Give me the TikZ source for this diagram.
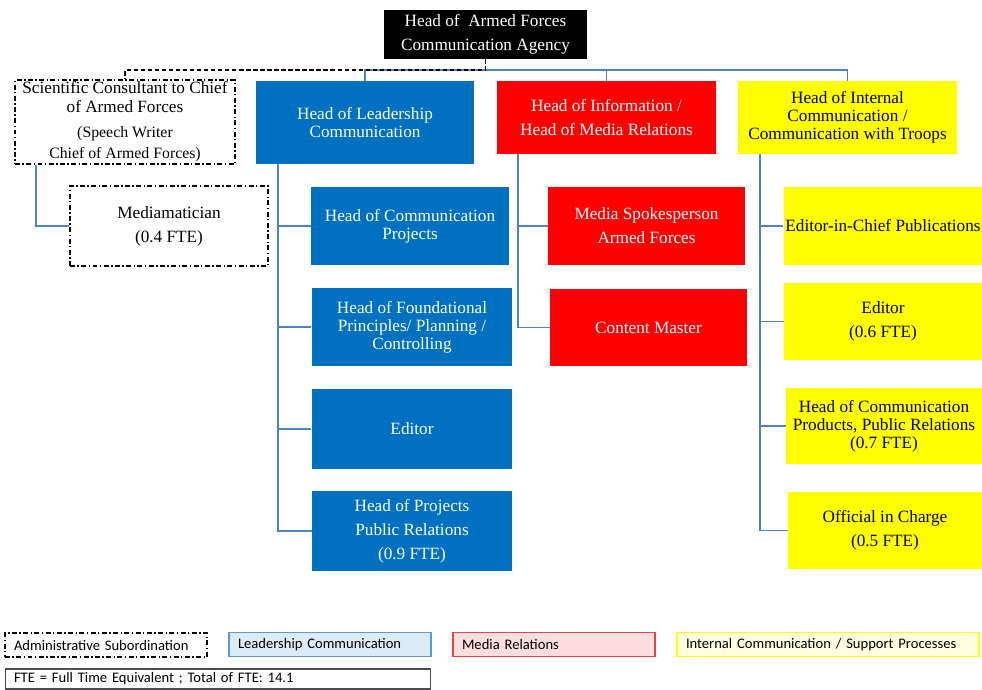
\documentclass[tikz,border=0pt]{standalone}
\usepackage{fontspec}
\setmainfont{Liberation Serif}
\newfontfamily\legendfont{Carlito}
\usepackage{xcolor}
\usetikzlibrary{positioning,calc}

\definecolor{leadblue}{RGB}{0,112,192}
\definecolor{mediared}{RGB}{255,0,0}
\definecolor{internyellow}{RGB}{255,255,0}
\definecolor{linkblue}{RGB}{79,129,199}
\definecolor{legblue}{RGB}{221,235,247}
\definecolor{legblueline}{RGB}{91,155,213}
\definecolor{legred}{RGB}{252,222,222}
\definecolor{legredline}{RGB}{232,66,66}
\definecolor{legyellow}{RGB}{255,255,224}

\begin{document}
\begin{tikzpicture}[x=0.02cm, y=-0.02cm,
    box/.style={minimum width=3.96cm, minimum height=1.56cm, inner sep=1pt,
        align=center, font=\fontsize{9.8}{10.3}\selectfont},
    leadbox/.style={box, fill=leadblue, text=white},
    mediabox/.style={box, fill=mediared, text=white},
    internbox/.style={box, fill=internyellow, text=black},
    adminbox/.style={box, draw=black, line width=1pt,
        dash pattern=on 2.8pt off 1.4pt on 0.8pt off 1.4pt},
    orgline/.style={draw=linkblue, line width=1pt},
    adminline/.style={draw=black, line width=1pt, dash pattern=on 2.5pt off 1.5pt},
    legbox/.style={text width=#1, inner xsep=0.18cm, inner ysep=0pt,
        minimum height=0.48cm, align=left, font=\legendfont\fontsize{8.3}{9}\selectfont}
]
    \useasboundingbox (0,0) rectangle (982,689);

    % Agency head
    \node[box, fill=black, text=white, minimum width=4.06cm, minimum height=0.98cm]
        (top) at (485.5,34.5) {Head of \ Armed Forces\\[3.4pt]Communication Agency};

    % Staff (administrative subordination)
    \node[adminbox, minimum width=4.4cm, minimum height=1.68cm] (sci) at (125,122)
        {Scientific Consultant to Chief\\of Armed Forces\\[4pt]
        \fontsize{9}{10}\selectfont (Speech Writer\\[2pt]
        \fontsize{9}{10}\selectfont Chief of Armed Forces)};
    \node[adminbox, minimum height=1.6cm] (med) at (169,226)
        {Mediamatician\\[3.4pt](0.4 FTE)};

    % Leadership communication
    \node[leadbox, minimum width=4.36cm, minimum height=1.66cm] (lead) at (365,122.5)
        {Head of Leadership\\Communication};
    \node[leadbox] (lead1) at (410,226) {Head of Communication\\Projects};
    \node[leadbox, minimum width=4.02cm] (lead2) at (412,327)
        {Head of Foundational\\Principles/ Planning /\\Controlling};
    \node[leadbox, minimum width=4.02cm, minimum height=1.6cm] (lead3) at (412,429) {Editor};
    \node[leadbox, minimum width=4cm, minimum height=1.6cm] (lead4) at (412,531)
        {Head of Projects\\[3.4pt]Public Relations\\[3.4pt](0.9 FTE)};

    % Media relations
    \node[mediabox, minimum width=4.38cm, minimum height=1.46cm] (info) at (606.5,117.5)
        {Head of Information /\\[3.4pt]Head of Media Relations};
    \node[mediabox, minimum width=3.94cm] (media1) at (646.5,226)
        {Media Spokesperson\\[3.4pt]Armed Forces};
    \node[mediabox, minimum width=3.94cm, minimum height=1.54cm] (media2) at (648.5,327.5)
        {Content Master};

    % Internal communication
    \node[internbox, minimum width=4.38cm, minimum height=1.46cm] (intern) at (847.5,117.5)
        {Head of Internal\\Communication /\\Communication with Troops};
    \node[internbox] (intern1) at (883,226) {Editor-in-Chief Publications};
    \node[internbox, minimum height=1.54cm] (intern2) at (883,321.5)
        {Editor\\[3.4pt](0.6 FTE)};
    \node[internbox, minimum width=3.92cm, minimum height=1.52cm] (intern3) at (884,426)
        {Head of Communication\\Products, Public Relations\\(0.7 FTE)};
    \node[internbox, minimum width=3.88cm, minimum height=1.54cm] (intern4) at (885,530.5)
        {Official in Charge\\[3.4pt](0.5 FTE)};

    % Connectors from the head
    \coordinate (bus) at ($(top.south)+(0,11)$);
    \draw[orgline] (lead.north) |- (bus) -| (intern.north);
    \draw[orgline] (info.north) -- (info.north |- bus);
    \draw[adminline] (top.south) -- (bus) -| (sci.north);
    \draw[orgline] ([xshift=0.44cm]sci.south west) |- (med.west);

    % Spines of the three departments
    \coordinate (leadspine) at ([xshift=0.44cm]lead.south west);
    \draw[orgline] (leadspine) |- (lead4.west);
    \foreach \n in {lead1,lead2,lead3}
        \draw[orgline] (\n.west) -- (\n.west -| leadspine);

    \coordinate (infospine) at ([xshift=0.42cm]info.south west);
    \draw[orgline] (infospine) |- (media2.west);
    \draw[orgline] (media1.west) -- (media1.west -| infospine);

    \coordinate (internspine) at ([xshift=0.44cm]intern.south west);
    \draw[orgline] (internspine) |- (intern4.west);
    \foreach \n in {intern1,intern2,intern3}
        \draw[orgline] (\n.west) -- (\n.west -| internspine);

    % Legend
    \node[legbox=3.68cm, draw=black, line width=1pt,
        dash pattern=on 2.8pt off 1.4pt on 0.8pt off 1.4pt] (legadmin) at (106,645)
        {Administrative Subordination};
    \node[legbox=3.68cm, fill=legblue, draw=legblueline, line width=0.8pt] (leglead) at (330,644.5)
        {Leadership Communication};
    \node[legbox=3.68cm, fill=legred, draw=legredline, line width=0.8pt] (legmedia) at (554,644.5)
        {Media Relations};
    \node[legbox=5.68cm, fill=legyellow, draw=internyellow, line width=0.8pt] (legintern) at (828,644.5)
        {Internal Communication / Support Processes};
    \node[legbox=8.16cm, minimum height=0.4cm, draw=black!70, line width=0.6pt] (legfte) at (218,679)
        {FTE = Full Time Equivalent ; Total of FTE: 14.1};
\end{tikzpicture}
\end{document}
